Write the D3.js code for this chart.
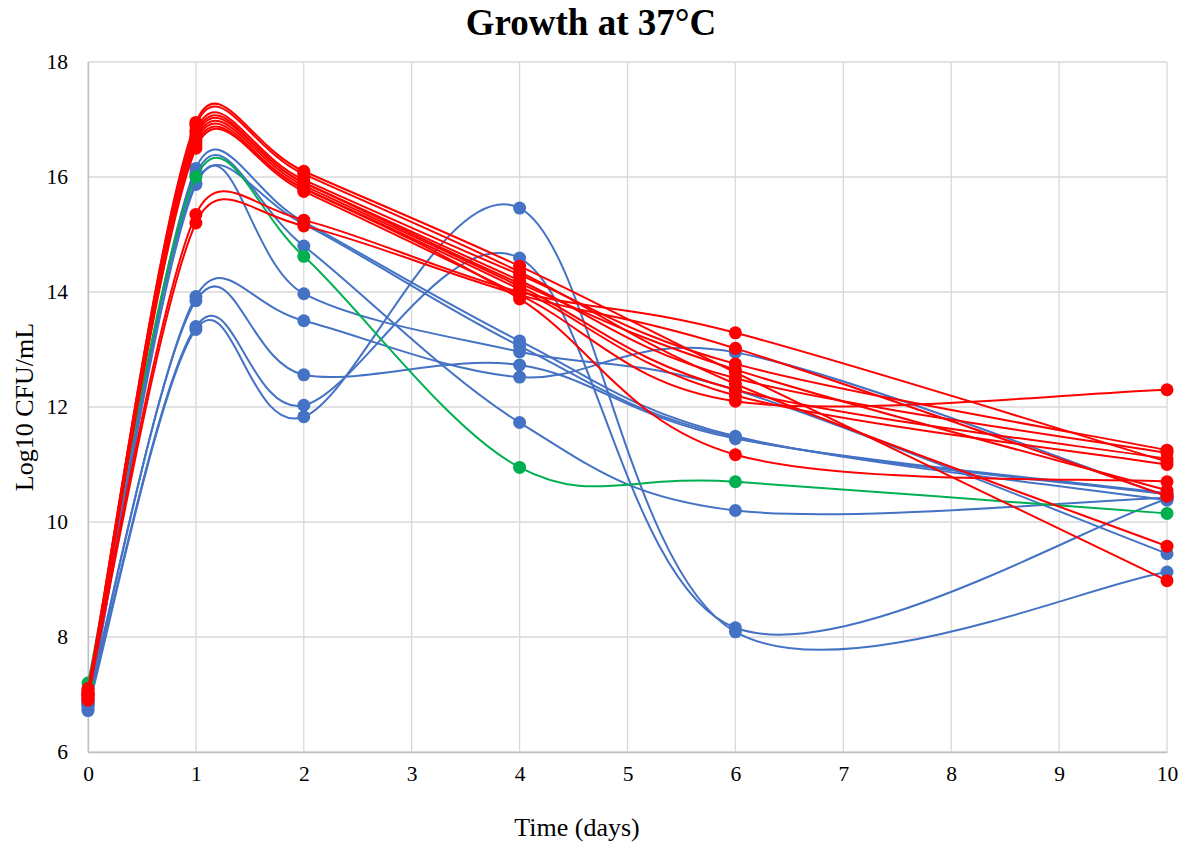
<!DOCTYPE html>
<html><head><meta charset="utf-8">
<script src="https://cdn.jsdelivr.net/npm/d3@7"></script>
<style>body{margin:0;background:#fff}</style>
</head><body>
<svg id="c" width="1192" height="847"></svg>
<script>
const days = [0, 1, 2, 4, 6, 10];
const xTicks = [0,1,2,3,4,5,6,7,8,9,10];
const yTicks = [6,8,10,12,14,16,18];

const blueSeries = [
  [6.90, 13.92, 13.50, 12.52, 12.95, 10.45],
  [6.85, 13.85, 12.56, 12.73, 11.45, 10.50],
  [6.80, 13.40, 12.03, 14.59, 8.16, 10.40],
  [6.75, 13.35, 11.83, 15.46, 8.09, 9.13],
  [6.72, 16.15, 15.22, 13.15, 11.49, 10.38],
  [6.85, 16.05, 14.80, 11.73, 10.20, 10.42],
  [6.90, 15.90, 13.97, 12.96, 12.30, 9.45],
  [6.80, 15.87, 15.18, 13.06, 11.47, 10.48]
];
const greenSeries = [
  [7.20, 16.00, 14.62, 10.95, 10.70, 10.15]
];
const redSeries = [
  [7.00, 16.95, 16.10, 14.45, 12.60, 8.98],
  [7.05, 16.90, 16.05, 14.35, 12.40, 9.58],
  [6.95, 16.80, 15.95, 14.30, 12.75, 11.25],
  [7.10, 16.75, 15.90, 14.20, 12.50, 11.20],
  [7.00, 16.65, 15.85, 14.10, 12.30, 11.10],
  [6.90, 16.60, 15.80, 14.05, 12.20, 11.00],
  [7.05, 16.55, 15.75, 13.95, 12.10, 12.30],
  [7.00, 16.50, 15.80, 13.88, 11.17, 10.70],
  [6.95, 16.70, 15.90, 14.15, 12.65, 10.55],
  [7.10, 15.35, 15.25, 14.00, 13.29, 11.05],
  [7.00, 15.20, 15.15, 13.95, 13.02, 10.45]
];
const groups = [
  {data: blueSeries, color: "#4472C4"},
  {data: greenSeries, color: "#00B050"},
  {data: redSeries, color: "#FF0000"}
];

const svg = d3.select("#c");
const x = d3.scaleLinear().domain([0,10]).range([88,1167]);
const y = d3.scaleLinear().domain([6,18]).range([752,62]);
const font = "'Liberation Serif','Times New Roman',serif";

// Excel-like smoothed line: Bezier, arms = (Pnext - Pprev)/6, limited to half the segment
function smoothPath(vals) {
  const P = vals.map((v,i)=>[x(days[i]), y(v)]);
  const n = P.length;
  const dist = (a,b)=>Math.hypot(a[0]-b[0], a[1]-b[1]);
  const p = d3.path();
  p.moveTo(P[0][0], P[0][1]);
  for (let i = 0; i < n-1; i++) {
    const p0 = P[Math.max(i-1,0)], p1 = P[i], p2 = P[i+1], p3 = P[Math.min(i+2,n-1)];
    const d12 = dist(p1,p2);
    let d02 = dist(p0,p2), d13 = dist(p1,p3);
    let f1 = 1/6, f2 = 1/6;
    if (d02*f1 > d12/2) f1 = d12/(2*d02);
    if (d13*f2 > d12/2) f2 = d12/(2*d13);
    const c1 = [p1[0] + (p2[0]-p0[0])*f1, p1[1] + (p2[1]-p0[1])*f1];
    const c2 = [p2[0] - (p3[0]-p1[0])*f2, p2[1] - (p3[1]-p1[1])*f2];
    p.bezierCurveTo(c1[0], c1[1], c2[0], c2[1], p2[0], p2[1]);
  }
  return p.toString();
}

// grid
svg.append("g").selectAll("line").data(xTicks).join("line")
  .attr("x1", d=>x(d)).attr("x2", d=>x(d)).attr("y1", y(6)).attr("y2", y(18))
  .attr("stroke", "#d9d9d9").attr("stroke-width", 1.3);
svg.append("g").selectAll("line").data(yTicks).join("line")
  .attr("x1", x(0)).attr("x2", x(10)).attr("y1", d=>y(d)).attr("y2", d=>y(d))
  .attr("stroke", "#d9d9d9").attr("stroke-width", 1.3);

// axes
const xAxis = svg.append("g").attr("transform", `translate(0,${y(6)})`)
  .call(d3.axisBottom(x).tickValues(xTicks).tickSize(0).tickPadding(14).tickFormat(d3.format("d")));
const yAxis = svg.append("g").attr("transform", `translate(${x(0)},0)`)
  .call(d3.axisLeft(y).tickValues(yTicks).tickSize(0).tickPadding(20).tickFormat(d3.format("d")));
[xAxis, yAxis].forEach(a => {
  a.select(".domain").attr("stroke", "#bfbfbf").attr("stroke-width", 1.3);
  a.selectAll("text").attr("font-family", font).attr("font-size", 21.5).attr("fill", "#000");
});

groups.forEach(g => {
  const gg = svg.append("g");
  g.data.forEach(s => {
    gg.append("path").attr("d", smoothPath(s)).attr("fill", "none")
      .attr("stroke", g.color).attr("stroke-width", 2);
  });
  g.data.forEach(s => {
    gg.selectAll(null).data(s).join("circle")
      .attr("cx", (d,i)=>x(days[i])).attr("cy", d=>y(d)).attr("r", 6.5)
      .attr("fill", g.color);
  });
});

svg.append("text").attr("x", 591).attr("y", 35).attr("text-anchor", "middle")
  .attr("font-family", font).attr("font-size", 37).attr("font-weight", "bold")
  .text("Growth at 37°C");
svg.append("text").attr("x", 577).attr("y", 836).attr("text-anchor", "middle")
  .attr("font-family", font).attr("font-size", 26).text("Time (days)");
svg.append("text").attr("transform", "translate(33,407) rotate(-90)").attr("text-anchor", "middle")
  .attr("font-family", font).attr("font-size", 26).text("Log10 CFU/mL");
</script>
</body></html>
